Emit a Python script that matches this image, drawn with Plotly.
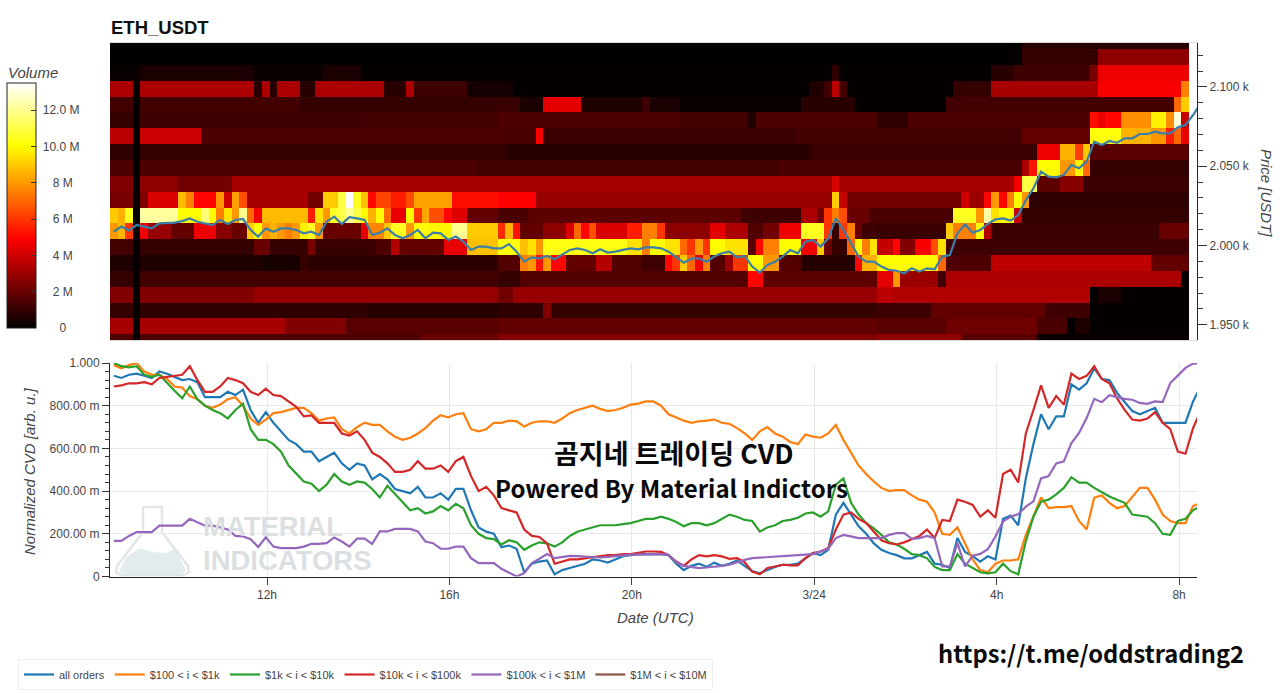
import pandas as pd
import plotly.graph_objects as go

W, H = 1280, 693
START = pd.Timestamp("2024-03-23 08:33:24")
END = pd.Timestamp("2024-03-24 08:23:36")
FIRST_SAMPLE = pd.Timestamp("2024-03-23 08:38:24")

x_ticks = ["2024-03-23 12:00", "2024-03-23 16:00", "2024-03-23 20:00", "2024-03-24 00:00", "2024-03-24 04:00", "2024-03-24 08:00"]
x_tick_labels = ["12h", "16h", "20h", "3/24", "4h", "8h"]
price_ticks = [1950, 2000, 2050, 2100]
price_tick_labels = ["1.950 k", "2.000 k", "2.050 k", "2.100 k"]
price_minor = [1950, 1960, 1970, 1980, 1990, 2000, 2010, 2020, 2030, 2040, 2050, 2060, 2070, 2080, 2090, 2100, 2110, 2120]
cvd_ticks = [0, 0.2, 0.4, 0.6, 0.8, 1.0]
cvd_tick_labels = ["0", "200.00 m", "400.00 m", "600.00 m", "800.00 m", "1.000"]
vol_ticks = [0, 2, 4, 6, 8, 10, 12]
nb = "\u00a0"
vol_tick_labels = [nb * 6 + "0", nb * 4 + "2 M", nb * 4 + "4 M", nb * 4 + "6 M", nb * 4 + "8 M", nb + "10.0 M", nb + "12.0 M"]
price_bins = [2128.9, 2118.9, 2108.9, 2098.9, 2088.9, 2078.9, 2068.9, 2058.9, 2048.9, 2038.9,
              2028.9, 2018.9, 2008.9, 1998.9, 1988.9, 1978.9, 1968.9, 1958.9, 1948.9, 1938.9]

# Volume per price bin, top row first, as (number of 10-min columns, volume in M)
vol_r00 = [(120, .05), (22, .8)]
vol_r01 = [(120, .05), (10, 1.0), (12, 2.7)]
vol_r02 = [(4, .15), (15, .5), (9, .2), (5, .5), (62, .1), (1, .9), (20, .1), (3, .8), (10, 1.2), (1, 2.3), (12, 4.6)]
vol_r03 = [(3, 3.3), (1, .1), (15, 3.3), (1, .8), (1, 3.3), (1, .8), (3, 3.3), (2, .8), (9, 3.3), (3, .8), (1, 3.3), (7, 1.2), (6, .4),
           (39, .1), (2, .6), (1, 1.3), (1, 3.7), (1, 1.3), (14, .1), (5, 1.0), (14, 3.2), (11, 4.8), (1, 7.5)]
vol_r04 = [(3, 1.3), (1, .1), (21, 1.3), (26, 1.0), (3, 1.1), (3, .5), (5, 4.4), (8, .6), (1, 1.2), (4, .5), (16, .2), (7, .8), (12, .1), (30, 1.3), (1, 7), (1, 9)]
vol_r05 = [(3, 1.0), (1, .1), (29, 1.15), (18, 1.3), (24, 1.5), (9, 1.3), (1, .6), (16, 1.5), (4, .9), (24, 1.5), (1, 5.2), (1, 4.6), (2, 5.0), (4, 7.8), (2, 9.8), (1, 7.8), (1, 13), (1, 3.8)]
vol_r06 = [(3, 3.6), (1, .1), (8, 3.9), (39, 1.5), (5, 1.4), (1, 4.9), (33, 1.1), (30, 1.3), (9, 1.9), (4, 10.2), (4, 8.5), (2, 8), (1, 5.5), (1, 7), (1, 4.5)]
vol_r07 = [(3, .9), (1, .1), (48, 1.0), (40, .8), (30, 1.1), (3, 4.6), (2, 8.5), (1, 6.2), (1, 9), (13, 1.7)]
vol_r08 = [(3, 1.5), (1, .1), (44, 1.5), (40, 1.3), (32, 1.4), (1, 3.3), (1, 5.3), (3, 10), (2, 8), (1, 9.8), (1, 7), (13, 1.0)]
vol_r09 = [(3, 2.5), (1, .1), (5, 2.7), (7, 2.2), (79, 3.2), (1, 4.2), (23, 3.2), (1, 4.7), (2, 11), (3, 1.8), (3, 2.6), (14, 1.1)]
vol_r10 = [(3, 2.3), (1, .1), (1, 2.5), (4, 4.2), (1, 8.7), (1, 7.5), (3, 5), (1, 8), (1, 4), (1, 8.2), (1, 6.5), (8, 3.2), (2, 2.2), (2, 9), (1, 11), (1, 13.5), (1, 10.5), (1, 8.8), (1, 5), (2, 6.3), (2, 5.5), (1, 6.5), (5, 8.2), (6, 5.2),
           (5, 4.9), (39, 2.9), (1, 9), (1, 3.8), (15, 2.2), (1, 4), (2, 3), (1, 5), (1, 8), (1, 5), (1, 7.5), (1, 10), (1, 8), (21, .9)]
vol_r11 = [(1, 9), (1, 8.5), (1, 10.5), (1, .1), (5, 12.2), (3, 10), (1, 11.7), (1, 10), (1, 7.5), (1, 9.5), (1, 8), (1, 12), (1, 7), (1, 4.7), (6, 8.7), (1, 5.5), (1, 9.5),
           (1, 8), (1, 10.5), (1, 11), (1, 12), (1, 11), (1, 10), (1, 8.5), (1, 10), (1, 7), (2, 4.5), (1, 10), (1, 6), (1, 8.3), (2, 6.5), (1, 5), (2, 4.3), (4, 1.9),
           (4, 1.4), (28, 1.8), (8, 1.2), (2, 3.3), (1, 2.2), (1, 6), (1, 7.5), (1, 6.5), (3, 2.0), (11, 1.4), (3, 10.5), (1, 8), (1, 12.3), (1, 9.5), (2, 10), (1, 3.8), (22, 1.0)]
vol_r12 = [(1, 8), (1, 8.6), (1, 6), (1, .1), (1, 4.7), (3, 2.9), (3, 1.9), (3, 4.6), (2, 2.6), (2, 2.0), (1, 9), (1, 10), (1, 8), (1, 8.5), (1, 8), (1, 7.5), (1, 8), (1, 9.8), (1, 10.5), (1, 8),
           (5, 2.0), (1, 4.5), (2, 7.6), (1, 9), (2, 10.5), (1, 8), (2, 10), (3, 9.9), (2, 12), (4, 9),
           (1, 5.8), (1, 8.5), (1, 5.3), (3, 1.9), (3, 2.7), (1, 4.2), (1, 7), (1, 5), (1, 6.5), (4, 4.2), (2, 5.5), (2, 7.5), (1, 6), (6, 2.7), (2, 4.4), (3, 3.3), (2, 1.6), (2, 2.2), (3, 4.6), (3, 10.5), (1, 6), (1, 1), (1, 6), (1, 7.5), (1, 2), (2, 1.2),
           (9, 1.1), (1, 9), (3, 7.5), (1, 10), (1, 3.5), (22, 1.1), (4, 2.0)]
vol_r13 = [(3, 1.3), (1, .1), (15, 1.0), (2, 2.0), (5, 1.0), (1, 2.3), (8, 1.1), (2, 1.5), (1, 3.5), (6, 1.9), (3, 4.5), (4, 8.8), (3, 10.2), (1, 8.8), (1, 9.5), (1, 8), (11, 10.3), (2, 9.5), (1, 7.5), (2, 10), (2, 9.5), (1, 7), (1, 6), (1, 8), (1, 6), (2, 10), (3, 9.5), (1, 1.7), (1, 5), (2, 7.5), (3, 10), (2, 4.7), (1, 9), (1, 2), (2, 1), (1, 7), (1, 10), (1, 7.5), (1, 9.5), (2, 3.8), (1, 5), (2, 2.5), (2, 4.8), (1, 6.5), (1, 9.5), (32, 1.2)]
vol_r14 = [(3, .6), (1, .1), (16, .6), (5, .45), (1, 1), (25, .85), (3, 1.6), (1, 7.5), (1, 8), (1, 5.3), (1, 8), (2, 5), (4, 1.9), (2, 3.5), (4, 1.6), (3, 1.2), (1, 5), (1, 6), (1, 9), (1, 7), (1, 4.7), (1, 7.5), (2, 1.6), (1, 3), (2, 6), (2, 10), (2, 8), (3, 1.6), (7, .7), (1, 5), (2, 8.5), (8, 10), (1, 7), (6, 1.5), (21, 3.7), (5, 1.9)]
vol_r15 = [(3, 1.0), (1, .1), (47, 1.3), (3, 1.0), (30, 1.6), (2, 5), (15, 1.8), (2, 4.4), (1, 8), (5, 3), (1, 1.2), (31, 3.3), (1, .1)]
vol_r16 = [(3, 2.5), (1, .1), (15, 2.5), (32, 2.9), (2, 2.2), (48, 2.9), (2, 3.6), (26, 3.4), (1, .1), (3, .5), (9, .1)]
vol_r17 = [(3, 1.0), (1, .1), (30, .9), (17, .75), (6, .9), (1, 2.5), (43, 1.0), (7, 1.2), (15, 1.9), (6, 1.2), (13, .1)]
vol_r18 = [(3, 3.2), (1, .1), (19, 3.2), (8, 2.5), (20, 1.7), (50, 1.9), (9, 1.7), (12, 2.1), (4, 1.4), (1, .1), (2, .6), (13, .1)]
vol_r19 = [(3, 1.5), (1, .1), (37, 1.5), (10, 2.0), (50, 2.5), (11, 2.8), (10, 1.7), (20, .15)]
volume_rows = [vol_r00, vol_r01, vol_r02, vol_r03, vol_r04, vol_r05, vol_r06, vol_r07, vol_r08, vol_r09,
               vol_r10, vol_r11, vol_r12, vol_r13, vol_r14, vol_r15, vol_r16, vol_r17, vol_r18, vol_r19]

price = [2008.7,2011.9,2009.4,2012.9,2011.9,2010.8,2014,2014.4,2014.4,2015.4,2017.1,2015,2014,2012.9,2016.1,2013.6,2016.1,2016.7,2009.8,2005.6,
         2010.8,2008.7,2010.8,2010.8,2009.8,2007.7,2008.7,2006.6,2015,2018.2,2013.6,2017.8,2017.1,2016.1,2006.6,2008.1,2010.8,2006.6,2004.5,2006.6,
         2009.8,2004.5,2008.1,2007.7,2003.5,2005.6,2002.4,1997.2,1999.3,1999.3,1998.2,
         1998.2,2000.9,1996.1,1989.8,1992.5,1991.9,1993.4,1991.3,1994,1997.2,1998.2,1997.2,1995.1,1997.6,1995.5,1996.1,1997.2,1998.2,1997.6,1998.8,
         1998.8,1998.2,1996.1,1992.5,1989.2,1991.7,1991.9,1989.8,1993,1995.1,1996.1,1992.5,1993.4,1986.7,1982.9,1987.7,1989.8,1993,1997.2,1995.1,
         2002.4,2003.5,1999.3,2004.5,2017.1,2009.8,2001.4,1993,1989.8,1989.8,1986.7,1984.6,1984.1,
         1982.5,1985.6,1983.5,1985.6,1985,1993,1994,2007.7,2013.3,2008.1,2009.8,2013.6,2016.5,2017.1,2015.7,2019.2,2028.7,2036,2046.6,2043.4,
         2043,2044.5,2050.8,2048.7,2052.9,2065.5,2063.4,2065.9,2064.8,2067.6,2067.6,2070.3,2070.3,2071.8,2070.7,2070.7,2074.5,2076,2082.3,2089.6]

all_orders = [.94,.93,.945,.95,.94,.93,.96,.95,.935,.92,.925,.91,.84,.84,.84,.865,.85,.875,.78,.72,.77,.72,.68,.64,.62,.585,.585,.54,.56,.58,
              .53,.50,.53,.52,.455,.48,.455,.41,.40,.39,.42,.37,.37,.39,.36,.41,.41,.31,.23,.21,.2,
              .1375,.145,.13,.02,.06,.07,.075,.01,.03,.04,.05,.06,.08,.075,.065,.08,.095,.10,.105,.105,.105,.105,.10,.06,.03,.05,.06,.045,.065,.05,
              .06,.075,.05,.025,.015,.03,.045,.055,.055,.06,.085,.11,.10,.125,.29,.345,.29,.235,.20,.155,.125,.11,.10,
              .085,.085,.10,.115,.06,.055,.04,.18,.115,.095,.07,.095,.08,.27,.285,.24,.46,.62,.76,.69,.75,.75,.90,.875,.905,.975,.925,.92,.86,.82,
              .775,.76,.775,.79,.72,.72,.72,.72,.82,.89]
usd_100_1k = [.99,.975,.99,1.0,.96,.945,.945,.925,.89,.885,.845,.83,.80,.79,.805,.83,.84,.80,.74,.71,.735,.765,.77,.78,.79,.79,.765,.73,.74,.745,
              .69,.67,.70,.72,.71,.71,.68,.655,.64,.65,.67,.695,.73,.755,.745,.76,.765,.69,.68,.69,.72,
              .72,.73,.727,.703,.72,.727,.727,.72,.74,.765,.78,.79,.80,.785,.775,.78,.79,.805,.81,.82,.82,.80,.76,.745,.73,.72,.727,.73,.735,.72,
              .715,.695,.67,.64,.68,.70,.67,.655,.63,.62,.665,.655,.65,.67,.71,.64,.58,.52,.48,.445,.415,.40,.405,
              .405,.38,.36,.35,.30,.20,.195,.23,.155,.08,.03,.02,.06,.075,.075,.08,.195,.28,.37,.32,.325,.325,.33,.26,.22,.37,.38,.345,.32,.33,
              .37,.415,.415,.36,.29,.26,.25,.25,.33,.345]
usd_1k_10k = [1.0,.985,.98,.985,.945,.935,.945,.905,.87,.835,.89,.83,.80,.78,.765,.74,.78,.81,.69,.64,.64,.62,.585,.52,.48,.445,.435,.40,.43,.48,
              .445,.43,.445,.44,.41,.37,.425,.385,.345,.31,.32,.295,.305,.33,.31,.34,.32,.24,.20,.18,.175,
              .15,.17,.16,.125,.145,.16,.155,.14,.16,.19,.21,.22,.23,.24,.24,.24,.245,.25,.26,.27,.27,.28,.27,.255,.235,.25,.25,.24,.25,.27,
              .29,.28,.265,.26,.21,.23,.24,.26,.265,.275,.295,.30,.28,.305,.43,.46,.345,.29,.25,.225,.195,.16,.15,
              .13,.105,.10,.085,.045,.03,.03,.105,.06,.04,.02,.015,.02,.06,.025,.01,.165,.28,.35,.36,.385,.415,.465,.44,.44,.415,.395,.375,.36,.345,
              .29,.285,.28,.25,.20,.195,.26,.27,.31,.33]
usd_10k_100k = [.89,.895,.905,.905,.91,.90,.93,.935,.94,.945,.985,.92,.865,.865,.89,.93,.92,.905,.865,.85,.88,.85,.845,.82,.795,.75,.755,.72,.72,.72,
                .67,.66,.68,.64,.58,.56,.53,.49,.49,.50,.54,.505,.505,.52,.49,.54,.56,.47,.40,.42,.38,
                .32,.31,.30,.22,.19,.185,.155,.06,.07,.08,.08,.085,.09,.095,.10,.10,.105,.105,.11,.117,.117,.115,.10,.07,.05,.08,.10,.094,.10,.094,
                .083,.086,.067,.023,.01,.04,.047,.055,.052,.052,.086,.11,.117,.133,.22,.29,.30,.27,.25,.21,.17,.156,.15,
                .16,.175,.19,.22,.18,.265,.26,.36,.35,.335,.28,.31,.275,.48,.50,.44,.67,.78,.895,.79,.845,.805,.95,.925,.94,.985,.925,.905,.835,.78,
                .735,.73,.74,.77,.72,.69,.585,.575,.695,.775]
usd_100k_1m = [.167,.167,.19,.208,.208,.208,.238,.238,.238,.238,.27,.253,.238,.238,.23,.22,.19,.188,.175,.138,.184,.14,.133,.133,.133,.14,.153,.153,.156,.183,
               .164,.14,.177,.177,.153,.211,.211,.223,.223,.223,.211,.164,.156,.13,.13,.14,.14,.086,.0625,.0625,.0625,
               .036,.017,0,.016,.0625,.083,.105,.086,.092,.097,.095,.092,.09,.089,.092,.095,.1,.102,.102,.103,.103,.105,.102,.067,.05,.044,.039,.042,.045,.05,
               .055,.067,.078,.086,.088,.089,.092,.094,.095,.098,.102,.105,.117,.13,.18,.195,.188,.18,.18,.18,.18,.195,.203,
               .203,.176,.18,.19,.18,.047,.047,.156,.047,.097,.106,.128,.187,.258,.28,.292,.327,.352,.459,.47,.53,.539,.625,.672,.742,.832,.816,.849,.84,.832,
               .828,.813,.809,.82,.817,.906,.941,.977,.997,1.0]
usd_1m_10m = [None] * 144

series_names = ["all orders", "$100 < i < $1k", "$1k < i < $10k", "$10k < i < $100k", "$100k < i < $1M", "$1M < i < $10M"]
series_values = [all_orders, usd_100_1k, usd_1k_10k, usd_10k_100k, usd_100k_1m, usd_1m_10m]
series_colors = ["#1f77b4", "#ff7f0e", "#2ca02c", "#d62728", "#9467bd", "#8c564b"]

for s in series_values + [price]:
    assert len(s) == 144, len(s)


def expand(runs):
    out = []
    for n, v in runs:
        out += [v] * n
    assert len(out) == 142, len(out)
    return out


def X(px):
    return px / W


def Y(py):
    return 1 - py / H


times = pd.date_range(FIRST_SAMPLE, periods=144, freq="10min")
time_strings = [t.strftime("%Y-%m-%d %H:%M:%S") for t in times]
x_range = [START.strftime("%Y-%m-%d %H:%M:%S"), END.strftime("%Y-%m-%d %H:%M:%S")]
TXT = "#444444"
FONT = "Liberation Sans, Arial, sans-serif"

fig = go.Figure()
fig.add_trace(go.Heatmap(
    x=time_strings[:142],
    y=price_bins[::-1],
    z=[expand(r) for r in volume_rows[::-1]],
    zmin=0, zmax=13.5, zsmooth=False, hoverongaps=False,
    colorscale=[[0, "#000000"], [0.365, "#ff0000"], [0.746, "#ffff00"], [1, "#ffffff"]],
    colorbar=dict(
        x=X(7), xanchor="left",
        y=Y(328), yanchor="bottom", len=245 / H, lenmode="fraction",
        thickness=29, thicknessmode="pixels", xpad=0, ypad=0,
        outlinecolor="#222222", outlinewidth=1,
        tickmode="array", tickvals=vol_ticks, ticktext=vol_tick_labels,
        ticks="inside", ticklen=5, tickcolor="#333333",
        tickfont=dict(family=FONT, size=12, color=TXT),
    ),
    xaxis="x", yaxis="y", showlegend=False,
))
fig.add_trace(go.Scatter(x=time_strings, y=price, mode="lines", line=dict(color="#3b7ea8", width=2.2),
                         xaxis="x", yaxis="y", showlegend=False, name="price"))
for name, vals, col in zip(series_names, series_values, series_colors):
    fig.add_trace(go.Scatter(x=time_strings, y=vals, mode="lines", name=name, line=dict(color=col, width=2.2),
                             xaxis="x2", yaxis="y2"))


def ann(text, x, y, size, color=TXT, bold=False, italic=False, angle=0, xanchor="center", font=FONT):
    t = text
    if bold:
        t = "<b>" + t + "</b>"
    if italic:
        t = "<i>" + t + "</i>"
    return dict(text=t, x=X(x), y=Y(y), xref="paper", yref="paper", showarrow=False, textangle=angle,
                xanchor=xanchor, yanchor="middle", font=dict(family=font, size=size, color=color))


CJK = "Noto Sans CJK KR, Noto Sans, sans-serif"
WM = "#dcdfe2"
annotations = [
    ann("ETH_USDT", 109, 27, 18.5, color="#111111", bold=True, xanchor="left"),
    ann("Volume", 6, 72, 15, italic=True, xanchor="left"),
    ann("Price [USDT]", 1267, 193, 15, italic=True, angle=90),
    ann("Normalized CVD [arb. u.]", 29, 471, 15, italic=True, angle=-90),
    ann("Date (UTC)", 655, 617, 15, italic=True),
    ann("MATERIAL", 201, 526, 27.5, color=WM, bold=True, xanchor="left"),
    ann("INDICATORS", 201, 560, 27.5, color=WM, bold=True, xanchor="left"),
    ann("곰지네 트레이딩 CVD", 674, 453, 27, color="#0a0a0a", bold=True, font=CJK),
    ann("Powered By Material Indictors", 671, 487, 24, color="#0a0a0a", bold=True, font=CJK),
    ann("https://t.me/oddstrading2", 1091, 653, 23.7, color="#0a0a0a", bold=True, font=CJK),
]


def path(points, close=True):
    s = "M " + " L ".join(f"{X(a):.5f},{Y(b):.5f}" for a, b in points)
    return s + (" Z" if close else "")


flask_shape = [(143, 507), (162, 507), (162, 532), (188, 566), (189, 572), (184, 575), (121, 575), (116, 572), (117, 566), (143, 532)]
hill_shape = [(119, 571), (127, 556), (140, 548), (152, 552), (165, 553), (175, 549), (186, 570), (182, 574), (123, 574)]
shapes = [
    dict(type="path", path=path(hill_shape), xref="paper", yref="paper", fillcolor="#e3ecec", line=dict(width=0), layer="below"),
    dict(type="path", path=path(flask_shape), xref="paper", yref="paper", fillcolor="rgba(0,0,0,0)", line=dict(color="#e3e6e6", width=2.5), layer="below"),
]

GRID = "#e8e8e8"
fig.update_layout(
    width=W, height=H, autosize=False, paper_bgcolor="white", plot_bgcolor="rgba(0,0,0,0)",
    margin=dict(l=0, r=0, t=0, b=0, pad=0, autoexpand=False),
    font=dict(family=FONT, size=12, color=TXT),
    annotations=annotations, shapes=shapes,
    xaxis=dict(domain=[X(110), X(1197)], range=x_range, type="date", anchor="y", showticklabels=False, ticks="",
               showgrid=False, zeroline=False, showline=True, linecolor="#dddddd", linewidth=1, mirror=True),
    yaxis=dict(domain=[Y(340), Y(43)], range=[1940.4, 2127.7], side="right", anchor="x", showgrid=False, zeroline=False,
               tickmode="array", tickvals=price_ticks, ticktext=price_tick_labels, ticks="outside", ticklen=9, tickcolor="#333333",
               showline=True, linecolor="#222222", linewidth=1,
               minor=dict(tickmode="array", tickvals=price_minor, ticks="outside", ticklen=5, tickcolor="#333333"),
               tickfont=dict(family=FONT, size=12, color=TXT)),
    xaxis2=dict(domain=[X(110), X(1197)], range=x_range, type="date", anchor="y2", tickmode="array", tickvals=x_ticks, ticktext=x_tick_labels,
                ticks="outside", ticklen=7, tickcolor="#444444", showgrid=True, gridcolor=GRID, gridwidth=1, zeroline=False,
                showline=True, linecolor="#222222", linewidth=1, tickfont=dict(family=FONT, size=12, color=TXT)),
    yaxis2=dict(domain=[Y(576.5), Y(363)], range=[0, 1.0], anchor="x2", tickmode="array", tickvals=cvd_ticks, ticktext=cvd_tick_labels,
                ticks="outside", ticklen=7, tickcolor="#333333", showgrid=True, gridcolor=GRID, gridwidth=1, zeroline=False,
                showline=True, linecolor="#222222", linewidth=1,
                minor=dict(tickmode="linear", tick0=0, dtick=0.04, ticks="outside", ticklen=4, tickcolor="#333333"),
                tickfont=dict(family=FONT, size=12, color=TXT)),
    legend=dict(orientation="h", x=X(18), xanchor="left", y=Y(659), yanchor="top", bgcolor="white",
                bordercolor="#efefef", borderwidth=1, font=dict(family=FONT, size=11, color=TXT),
                itemwidth=30, traceorder="normal"),
    hovermode=False,
)
fig.write_html("out.html", config=dict(displayModeBar=False),
               post_script="document.body.style.margin='0';document.documentElement.style.overflow='hidden';")
